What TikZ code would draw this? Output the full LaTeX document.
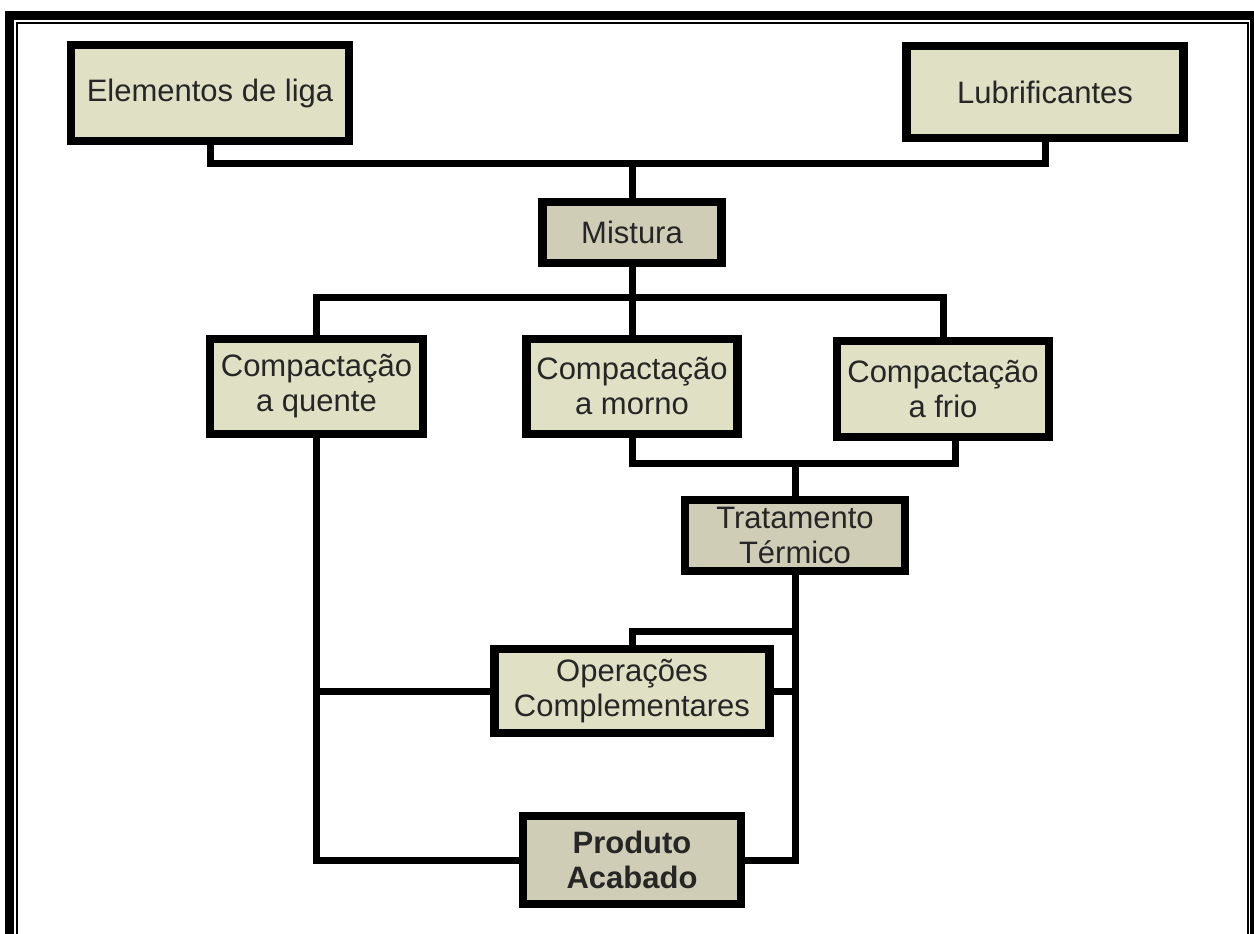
\documentclass[tikz,border=0pt]{standalone}
\usepackage{fontspec}
\setmainfont{Liberation Sans}
\usetikzlibrary{positioning,calc}
\definecolor{caixaclara}{HTML}{DFE0C4}
\definecolor{caixaescura}{HTML}{CFCDB6}
\definecolor{texto}{HTML}{262626}
\tikzset{
  caixa/.style={draw=black,line width=8.5pt,fill=caixaclara,text=texto,align=center,inner sep=0pt,font=\fontsize{31}{35}\selectfont},
  caixaesc/.style={caixa,fill=caixaescura},
  ligacao/.style={line width=7pt}
}
\begin{document}
\begin{tikzpicture}[x=1pt,y=-1pt]
		% page and frame
		\useasboundingbox (0,0) rectangle (1254,934);
		\fill[white] (0,0) rectangle (1254,934);
		\fill (5,11) rectangle (13.5,934);
		\fill (5,11) rectangle (1254,20);
		\fill (1250,11) rectangle (1254,934);
		\draw[line width=1.6pt] (16.8,934) -- (16.8,23) -- (1248,23) -- (1248,934);
		% draw nodes
		\node[caixa,minimum width=278pt,minimum height=96pt] (elementos) at (210,93) {Elementos de liga};
		\node[caixa,minimum width=277pt,minimum height=92pt] (lubrif) at (1045,92) {Lubrificantes};
		\node[caixaesc,minimum width=179pt,minimum height=61pt] (mistura) at (632,232.5) {Mistura};
		\node[caixa,minimum width=213pt,minimum height=95pt] (quente) at (316.5,386.5) {Compacta\c{c}\~ao\\a quente};
		\node[caixa,minimum width=211pt,minimum height=95pt] (morno) at (632,386.5) {Compacta\c{c}\~ao\\a morno};
		\node[caixa,minimum width=212pt,minimum height=96pt] (frio) at (943,389) {Compacta\c{c}\~ao\\a frio};
		\node[caixaesc,minimum width=220pt,minimum height=71pt] (tratamento) at (795,535.5) {Tratamento\\T\'ermico};
		\node[caixa,minimum width=275pt,minimum height=84pt] (operacoes) at (632,691) {Opera\c{c}\~oes\\Complementares};
		\node[caixaesc,minimum width=218pt,minimum height=88pt,font=\fontsize{31}{35}\selectfont\bfseries] (produto) at (632,860) {Produto\\Acabado};
		% draw junctions
		\coordinate (jmistura) at (632,163);
		\coordinate (jcompact) at (632,297);
		\coordinate (jtrat) at (795,463);
		\coordinate (jops) at (795,631);
		% draw connections
		\draw[ligacao] (elementos.south) |- (jmistura) -| (lubrif.south);
		\draw[ligacao] (jmistura) -- (mistura.north);
		\draw[ligacao] (mistura.south) -- (jcompact);
		\draw[ligacao] (quente.north) |- (jcompact) -| (frio.north);
		\draw[ligacao] (jcompact) -- (morno.north);
		\draw[ligacao] (morno.south) |- (jtrat) -| ($(frio.south)+(12,0)$);
		\draw[ligacao] (jtrat) -- (tratamento.north);
		\draw[ligacao] (tratamento.south) -- (jops) |- (produto.east);
		\draw[ligacao] (jops) -| (operacoes.north);
		\draw[ligacao] (operacoes.east) -- (operacoes.east -| jops);
		\draw[ligacao] (quente.south) |- (produto.west);
		\draw[ligacao] (operacoes.west) -- (operacoes.west -| quente.south);
\end{tikzpicture}
\end{document}
